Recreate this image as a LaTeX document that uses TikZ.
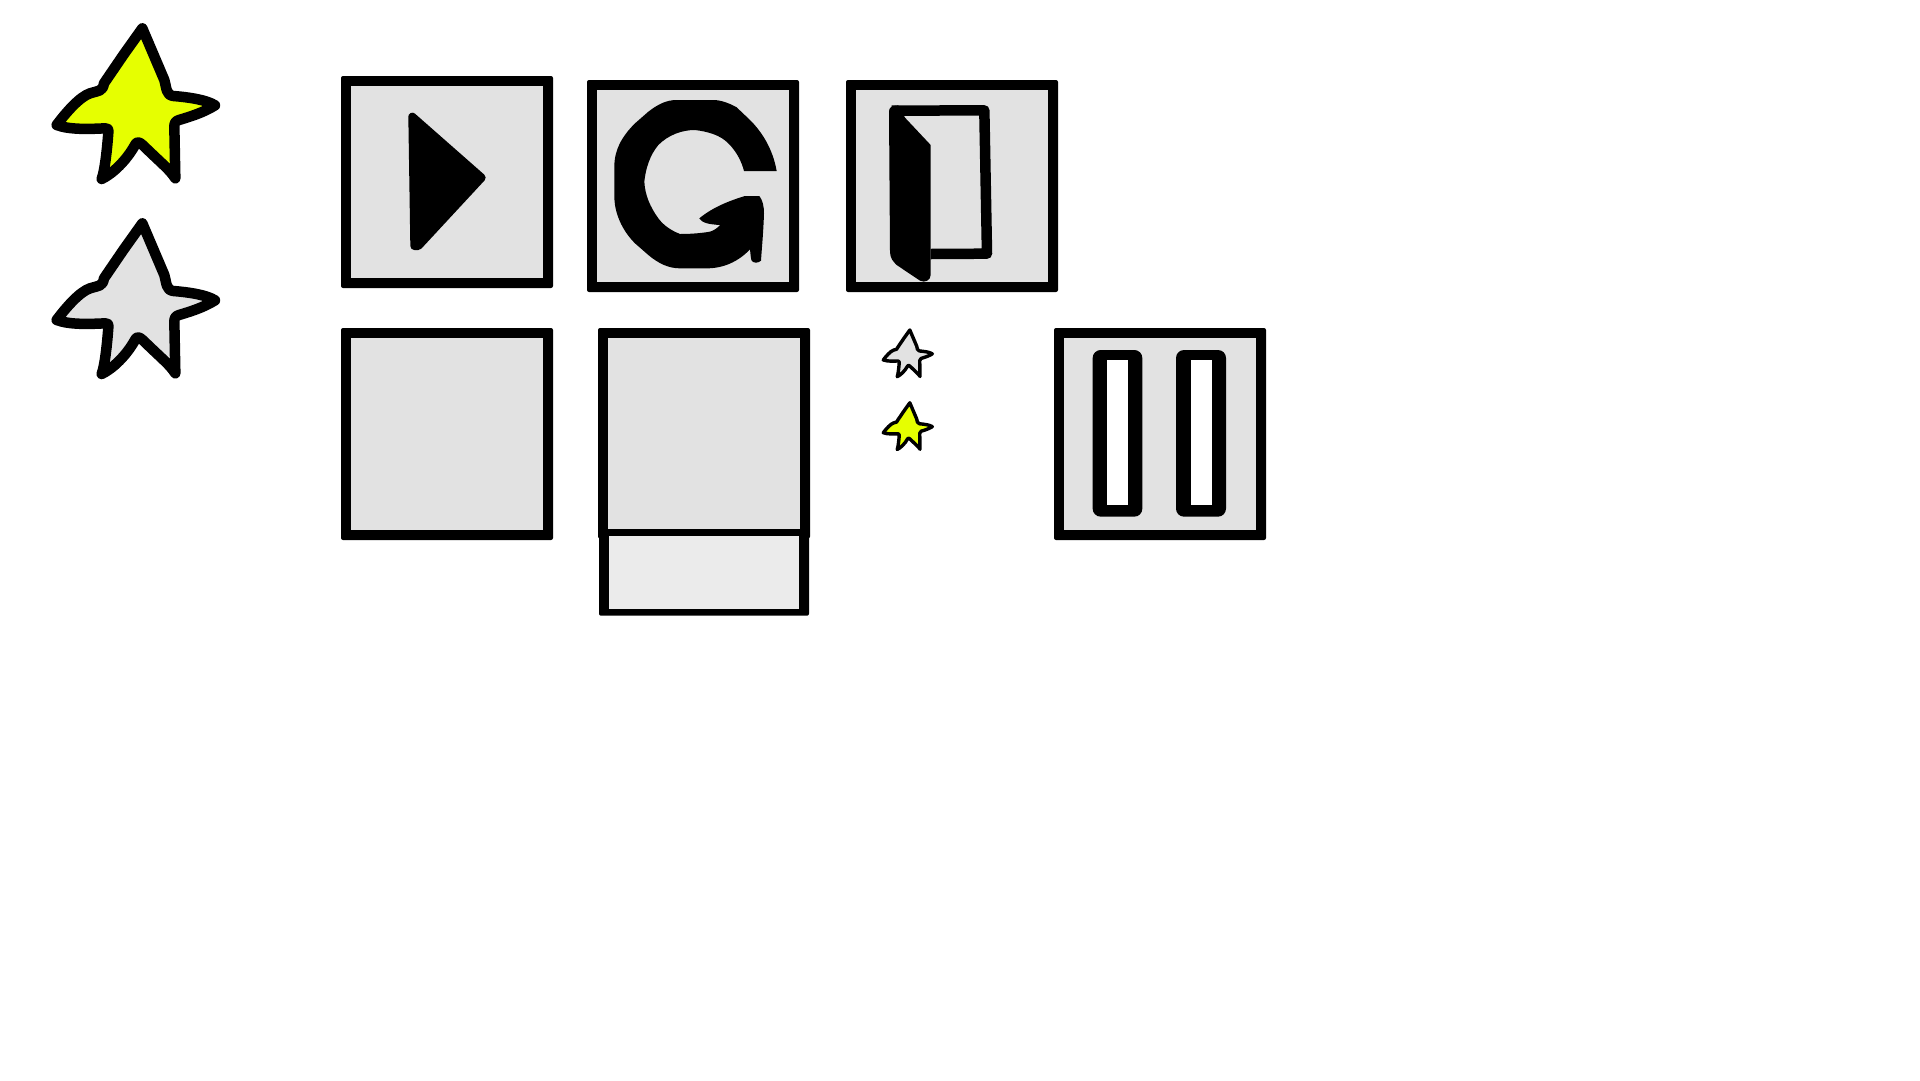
\documentclass[tikz,border=0pt]{standalone}
\definecolor{boxgrey}{HTML}{E2E2E2}
\definecolor{lowgrey}{HTML}{EBEBEB}
\definecolor{staryellow}{HTML}{E6FF00}
\tikzset{
  starbig/.style={draw=black,line width=10.5pt,line join=round},
  starsmall/.style={draw=black,line width=3.4pt,line join=round},
  glyph/.style={fill=black,draw=none},
  zoomed/.style={x=0.33333pt,y=-0.33333pt}
}
\newcommand{\boxat}[4]{%
  \fill[black,rounded corners=2pt] (#1-5,#2-5) rectangle (#3+5,#4+5);
  \fill[boxgrey] (#1+5,#2+5) rectangle (#3-5,#4-5);
}
\def\starpts{(337,85) -- (403,240) .. controls (410,265) and (408,285) .. (430,288)
 .. controls (480,292) and (530,300) .. (555,316)
 .. controls (520,338) and (480,350) .. (447,360) .. controls (436,363) and (433,370) .. (433,380)
 -- (436,535) .. controls (420,510) and (400,495) .. (338,435) .. controls (326,424) and (320,425) .. (315,435)
 .. controls (290,480) and (250,520) .. (215,537)
 .. controls (225,510) and (232,440) .. (235,397) .. controls (236,386) and (232,385) .. (225,385)
 .. controls (180,387) and (120,390) .. (80,375)
 .. controls (110,335) and (150,290) .. (180,280) .. controls (205,272) and (218,275) .. (222,250)
 -- (280,165) -- cycle}
\begin{document}
\begin{tikzpicture}[x=1pt,y=-1pt]
\useasboundingbox (0,0) rectangle (1920,1080);
\fill[white] (0,0) rectangle (1920,1080);
% large stars
\begin{scope}[xshift=30pt,zoomed]
  \path[starbig,fill=staryellow] \starpts;
\end{scope}
\begin{scope}[xshift=30pt,yshift=-195pt,zoomed]
  \path[starbig,fill=boxgrey] \starpts;
\end{scope}
% small stars
\begin{scope}[xshift=875pt,yshift=-321.2pt,x=0.1033pt,y=-0.1033pt]
  \path[starsmall,fill=boxgrey] \starpts;
\end{scope}
\begin{scope}[xshift=875pt,yshift=-394pt,x=0.1033pt,y=-0.1033pt]
  \path[starsmall,fill=staryellow] \starpts;
\end{scope}
% boxes
\boxat{346}{81}{548}{283}
\boxat{592}{85}{794}{287}
\boxat{851}{85}{1053}{287}
\boxat{346}{333}{548}{535}
\fill[black,rounded corners=2pt] (599,530) rectangle (809,615.7);
\boxat{603}{333}{805}{533.5}
\fill[lowgrey] (609,535.7) rectangle (799,609.3);
\boxat{1059}{333}{1261}{535}
% play
\begin{scope}[xshift=330pt,yshift=-70pt,zoomed]
  \path[fill=black,draw=black,line width=8pt,line join=round] (247,140) -- (455,323) -- (265,528) -- (253,528) -- cycle;
\end{scope}
% reload
\begin{scope}[xshift=580pt,yshift=-70pt,zoomed]
  \path[glyph] (590,303) .. controls (578,235) and (545,185) .. (510,150) -- (470,112)
   .. controls (445,98) and (420,90) .. (400,90) -- (290,90)
   .. controls (260,90) and (235,102) .. (205,125) -- (165,160)
   .. controls (125,200) and (103,240) .. (103,290) -- (103,385)
   .. controls (105,430) and (125,480) .. (165,520) -- (205,555)
   .. controls (235,580) and (265,595) .. (300,595) -- (380,595)
   .. controls (430,595) and (475,575) .. (510,538)
   .. controls (512,555) and (512,565) .. (515,572) .. controls (520,580) and (535,580) .. (543,572)
   .. controls (545,540) and (550,490) .. (552,430) .. controls (552,410) and (548,390) .. (538,378)
   -- (495,378) .. controls (455,390) and (400,410) .. (358,445)
   .. controls (365,458) and (385,463) .. (420,465) .. controls (412,475) and (400,482) .. (390,485)
   .. controls (360,490) and (330,492) .. (300,492) .. controls (270,480) and (250,465) .. (235,445)
   .. controls (210,410) and (195,375) .. (193,335) .. controls (197,295) and (210,255) .. (235,225)
   .. controls (265,195) and (305,180) .. (345,180) .. controls (385,185) and (420,195) .. (445,220)
   .. controls (470,245) and (485,275) .. (492,303) -- cycle;
\end{scope}
% door
\begin{scope}[xshift=840pt,yshift=-70pt,zoomed]
  \path[draw=black,line width=10.5pt,line join=round] (155,122) -- (433,121) -- (441,551) -- (272,552);
  \path[glyph] (147,125) .. controls (147,112) and (155,107) .. (175,106) -- (195,143) -- (272,225) -- (272,615) .. controls (272,630) and (255,640) .. (240,632) -- (170,585) .. controls (160,575) and (150,565) .. (150,545) -- cycle;
\end{scope}
% pause
\begin{scope}[xshift=1040pt,yshift=-320pt,zoomed]
  \fill[black,rounded corners=8pt] (158,90) rectangle (307,590);
  \fill[white] (202,120) rectangle (265,555);
  \fill[black,rounded corners=8pt] (408,90) rectangle (558,590);
  \fill[white] (452,120) rectangle (516,555);
\end{scope}
\end{tikzpicture}
\end{document}
